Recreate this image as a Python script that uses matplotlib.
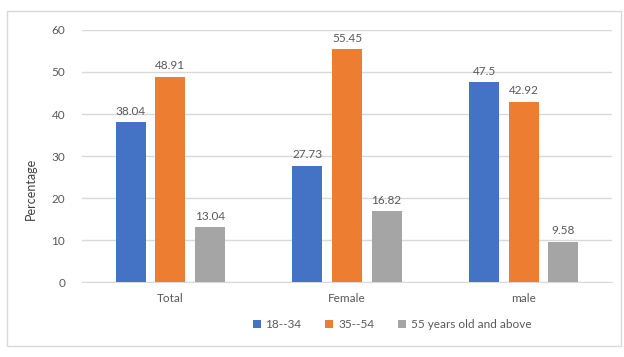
import numpy as np
import matplotlib.pyplot as plt
from matplotlib.patches import Rectangle

plt.rcParams['font.family'] = ['Lato', 'DejaVu Sans']

categories = ['Total', 'Female', 'male']
series_names = ['18--34', '35--54', '55 years old and above']
young = [38.04, 27.73, 47.5]
middle = [48.91, 55.45, 42.92]
older = [13.04, 16.82, 9.58]
labels_text = [['38.04', '27.73', '47.5'],
               ['48.91', '55.45', '42.92'],
               ['13.04', '16.82', '9.58']]

colors = ['#4472c4', '#ed7d31', '#a5a5a5']
text_grey = '#595959'

fig = plt.figure(figsize=(6.24, 3.57), dpi=100)
# light frame round the chart area
fig.patches.append(Rectangle((7/624, 0.03), 0.995 - 7/624, 1 - 11/357 - 0.03,
                             transform=fig.transFigure, fill=False,
                             edgecolor='#d9d9d9', linewidth=1.0))

ax = fig.add_axes([0.131, 0.21, 0.85, 0.706])

x = np.arange(len(categories))
width = 0.17
stride = 0.224
for i, (vals, name) in enumerate(zip([young, middle, older], series_names)):
    pos = x + (i - 1) * stride
    bars = ax.bar(pos, vals, width, color=colors[i], label=name, zorder=3)
    for b, txt in zip(bars, labels_text[i]):
        ax.annotate(txt, (b.get_x() + b.get_width() / 2, b.get_height()),
                    xytext=(0, 4), textcoords='offset points',
                    ha='center', va='bottom', fontsize=8.5, color=text_grey)

ax.set_xlim(-0.5, 2.5)
ax.set_ylim(0, 60)
ax.set_yticks(range(0, 61, 10))
ax.set_xticks(x)
ax.set_xticklabels(categories)
ax.yaxis.grid(True, color='#d9d9d9', linewidth=1.0, zorder=0)
ax.tick_params(axis='both', length=0, labelsize=8.5, colors=text_grey)
ax.tick_params(axis='y', pad=12)
ax.tick_params(axis='x', pad=8)
for side in ['top', 'right', 'left']:
    ax.spines[side].set_visible(False)
ax.spines['bottom'].set_color('#d9d9d9')
ax.set_ylabel('Percentage', fontsize=9, color='#404040')
ax.yaxis.set_label_coords(-0.085, 0.37)

ax.legend(loc='center', bbox_to_anchor=(0.585, -0.17),
          ncol=3, frameon=False, fontsize=8.5, handlelength=0.7,
          handleheight=0.7, handletextpad=0.4, columnspacing=2.0,
          labelcolor=text_grey)

fig.savefig('out.png', dpi=100)
